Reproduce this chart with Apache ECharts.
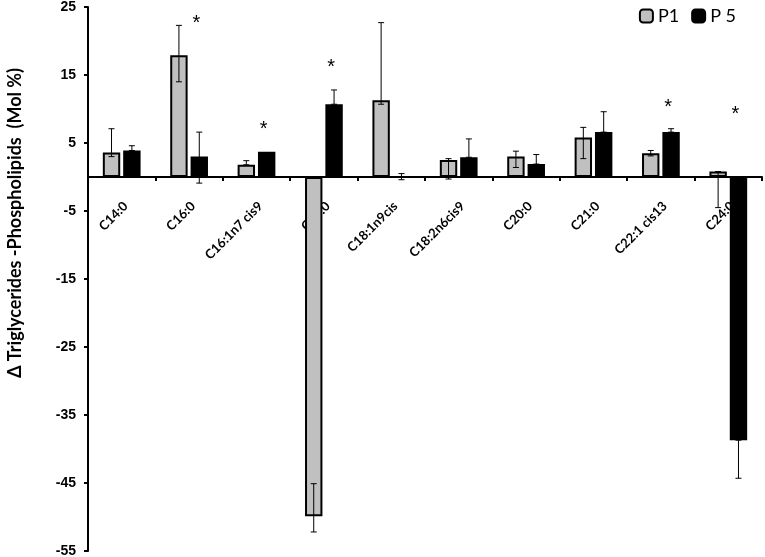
<!DOCTYPE html>
<html>
<head>
<meta charset="utf-8">
<script src="https://cdn.jsdelivr.net/npm/echarts@6/dist/echarts.min.js"></script>
<style>
html,body{margin:0;padding:0;background:#fff;}
#chart{width:765px;height:557px;}
</style>
</head>
<body>
<div id="chart"></div>
<script>
// ---- data ----
const categories = ['C14:0','C16:0','C16:1n7 cis9','C18:0','C18:1n9cis','C18:2n6cis9','C20:0','C21:0','C22:1 cis13','C24:0'];
const p1 = [3.6, 17.9, 1.8, -49.9, 11.3, 2.5, 3.0, 5.8, 3.5, 0.8];
const p5 = [3.9, 3.0, 3.7, 10.7, 0.0, 2.9, 1.9, 6.6, 6.6, -38.7];
const p1Low  = [3.0, 14.0, 1.8, -52.2, 10.7, -0.3, 1.4, 2.7, 3.1, -4.5];
const p1High = [7.1, 22.3, 2.4, -45.1, 22.7, 2.7, 3.8, 7.3, 3.9, 0.8];
const p5Low  = [3.9, -0.9, 3.7, 10.7, -0.4, 2.9, 1.9, 6.6, 6.6, -44.3];
const p5High = [4.6, 6.6, 3.7, 12.8, 0.5, 5.6, 3.3, 9.6, 7.1, -38.7];
const starCats = ['C16:0','C16:1n7 cis9','C18:0','C22:1 cis13','C24:0'];
const starY = [23.0, 7.5, 16.5, 10.7, 9.6];
const yTicks = [-55, -45, -35, -25, -15, -5, 5, 15, 25];
const seriesNames = ['P1', 'P 5'];
const yTitle = 'Δ Triglycerides -Phospholipids  (Mol %)';

const CAT_GAP = 0.44, BAR_GAP = 0.17;
function barOffset(api, idx) {
  const band = api.size([1, 0])[0];
  const w = band * (1 - CAT_GAP) / (2 + BAR_GAP);
  const total = w * 2 + w * BAR_GAP;
  return -total / 2 + w / 2 + idx * w * (1 + BAR_GAP);
}

function errData(lows, highs) {
  const out = [];
  for (let i = 0; i < categories.length; i++) {
    if (lows[i] !== highs[i]) out.push([i, lows[i], highs[i]]);
  }
  return out;
}

function errSeries(idx, lows, highs) {
  return {
    type: 'custom',
    z: 5,
    silent: true,
    encode: { x: 0, y: [1, 2] },
    data: errData(lows, highs),
    renderItem: function (params, api) {
      const i = api.value(0);
      const lo = api.coord([i, api.value(1)]);
      const hi = api.coord([i, api.value(2)]);
      const x = lo[0] + barOffset(api, idx);
      const cap = 3;
      const st = { stroke: '#000', lineWidth: 1 };
      return {
        type: 'group',
        children: [
          { type: 'line', shape: { x1: x, y1: lo[1], x2: x, y2: hi[1] }, style: st },
          { type: 'line', shape: { x1: x - cap, y1: lo[1], x2: x + cap, y2: lo[1] }, style: st },
          { type: 'line', shape: { x1: x - cap, y1: hi[1], x2: x + cap, y2: hi[1] }, style: st }
        ]
      };
    }
  };
}

const chart = echarts.init(document.getElementById('chart'));
chart.setOption({
  animation: false,
  backgroundColor: '#fff',
  grid: { left: 88, right: 3, top: 7, bottom: 6, containLabel: false, outerBoundsMode: 'none' },
  legend: {
    data: seriesNames,
    right: 24, top: 2,
    itemWidth: 13, itemHeight: 13, itemGap: 12,
    textStyle: { fontFamily: 'Lato', fontSize: 18, color: '#000', padding: [0, 0, 0, 0] }
  },
  xAxis: {
    type: 'category',
    data: categories,
    axisLine: { onZero: true, lineStyle: { color: '#000', width: 2 } },
    axisTick: { show: true, interval: 0, length: 4, lineStyle: { color: '#000', width: 2 } },
    axisLabel: { show: false },
    splitLine: { show: false }
  },
  yAxis: {
    type: 'value',
    min: -55, max: 25, interval: 10,
    name: yTitle,
    nameLocation: 'middle',
    nameRotate: 90,
    nameGap: 64,
    nameTextStyle: {
      fontFamily: 'Lato', fontWeight: 'bold', fontSize: 18, color: '#000',
      padding: [0, 0, 0, 112]
    },
    axisLine: { show: true, lineStyle: { color: '#000', width: 2 } },
    axisTick: { show: true, length: 4, customValues: yTicks, lineStyle: { color: '#000', width: 2 } },
    axisLabel: {
      customValues: yTicks, margin: 12,
      fontFamily: 'Liberation Sans, Arial', fontWeight: 'bold', fontSize: 14, color: '#000'
    },
    splitLine: { show: false }
  },
  series: [
    {
      type: 'custom',
      z: 1,
      silent: true,
      encode: { x: 0, y: 1 },
      data: categories.map((c, i) => [i, 0]),
      renderItem: function (params, api) {
        const i = api.value(0);
        const p = api.coord([i, 0]);
        return {
          type: 'text',
          x: p[0] + 4,
          y: p[1] + 27,
          rotation: Math.PI / 4,
          style: {
            text: categories[i], fontFamily: 'Lato', fontWeight: 'bold', fontSize: 13, fill: '#000',
            align: 'right', verticalAlign: 'middle'
          }
        };
      }
    },
    {
      name: seriesNames[0], type: 'bar', data: p1, z: 2,
      barCategoryGap: (CAT_GAP * 100) + '%', barGap: (BAR_GAP * 100) + '%',
      itemStyle: { color: '#c0c0c0', borderColor: '#000', borderWidth: 2 }
    },
    {
      name: seriesNames[1], type: 'bar', data: p5, z: 2,
      barCategoryGap: (CAT_GAP * 100) + '%', barGap: (BAR_GAP * 100) + '%',
      itemStyle: { color: '#000', borderColor: '#000', borderWidth: 2 }
    },
    errSeries(0, p1Low, p1High),
    errSeries(1, p5Low, p5High),
    {
      type: 'custom',
      z: 6,
      silent: true,
      encode: { x: 0, y: 1 },
      data: starCats.map((c, k) => [categories.indexOf(c), starY[k]]),
      renderItem: function (params, api) {
        const i = api.value(0);
        const p = api.coord([i, api.value(1)]);
        return {
          type: 'text',
          x: p[0] + barOffset(api, 1) - 3,
          y: p[1] + 3,
          style: {
            text: '*', fontFamily: 'Liberation Sans', fontSize: 20, fill: '#000',
            align: 'center', verticalAlign: 'middle'
          }
        };
      }
    }
  ]
});
</script>
</body>
</html>
